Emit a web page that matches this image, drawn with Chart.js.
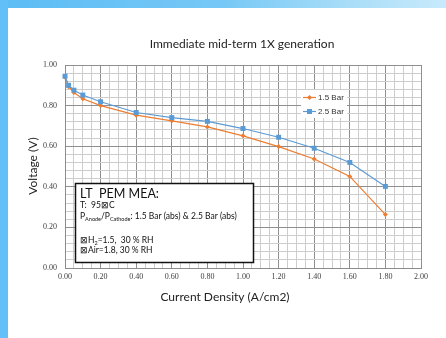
<!DOCTYPE html>
<html>
<head>
<meta charset="utf-8">
<script src="https://cdn.jsdelivr.net/npm/chart.js@4.4.1/dist/chart.umd.min.js"></script>
<style>
  html, body { margin: 0; padding: 0; background: #fff; }
  #wrap { position: relative; width: 446px; height: 338px; overflow: hidden; }
  canvas { position: absolute; left: 0; top: 0; }
</style>
</head>
<body>
<div id="wrap"><canvas id="c" width="446" height="338"></canvas></div>
<script>
// ---- data ----
const currentDensity = [0, 0.02, 0.05, 0.1, 0.2, 0.4, 0.6, 0.8, 1.0, 1.2, 1.4, 1.6, 1.8];
const voltage15Bar   = [0.940, 0.893, 0.864, 0.834, 0.800, 0.753, 0.725, 0.695, 0.651, 0.598, 0.537, 0.451, 0.263];
const voltage25Bar   = [0.945, 0.900, 0.876, 0.852, 0.819, 0.766, 0.741, 0.722, 0.687, 0.644, 0.590, 0.520, 0.402];
const seriesNames    = ['1.5 Bar', '2.5 Bar'];
const chartTitle     = 'Immediate mid-term 1X generation';
const xTitle         = 'Current Density (A/cm2)';
const yTitle         = 'Voltage (V)';

const ORANGE = '#ed7d31', BLUE = '#5b9bd5';

function pts(xs, ys) { return xs.map((x, i) => ({ x: x, y: ys[i] })); }
function isMajor(v) { const r = v / 0.2; return Math.abs(r - Math.round(r)) < 1e-6; }

const decorPlugin = {
  id: 'decor',
  beforeDraw(chart) {
    const ctx = chart.ctx;
    ctx.save();
    ctx.fillStyle = '#ffffff';
    ctx.fillRect(0, 0, chart.width, chart.height);
    const g = ctx.createLinearGradient(0, 0, chart.width, 0);
    g.addColorStop(0, '#5cbcf5');
    g.addColorStop(0.5, '#76c8f6');
    g.addColorStop(0.78, '#a9ddf8');
    g.addColorStop(1, '#c8eafc');
    ctx.fillStyle = g;
    ctx.fillRect(0, 0, chart.width, 8);
    ctx.fillStyle = '#62bff7';
    ctx.fillRect(0, 0, 8, chart.height);
    ctx.restore();
  },
  afterDraw(chart) {
    const ctx = chart.ctx;
    ctx.save();
    // chart title
    ctx.fillStyle = '#222';
    ctx.font = '12px Lato';
    ctx.textAlign = 'center';
    ctx.textBaseline = 'middle';
    ctx.fillText(chartTitle, 242, 44);
    // axis titles
    ctx.font = '12px Lato';
    ctx.fillText(xTitle, 225, 297);
    ctx.save();
    ctx.translate(33, 166);
    ctx.rotate(-Math.PI / 2);
    ctx.fillText(yTitle, 0, 0);
    ctx.restore();

    // legend
    ctx.fillStyle = '#fff';
    ctx.fillRect(301, 90, 46, 28);
    const legendItems = [
      { name: seriesNames[0], color: ORANGE, y: 97.5, style: 'diamond' },
      { name: seriesNames[1], color: BLUE, y: 111.5, style: 'square' }
    ];
    legendItems.forEach(it => {
      ctx.strokeStyle = it.color;
      ctx.lineWidth = 1.2;
      ctx.beginPath();
      ctx.moveTo(303, it.y);
      ctx.lineTo(316, it.y);
      ctx.stroke();
      ctx.fillStyle = it.color;
      if (it.style === 'square') {
        ctx.fillRect(307, it.y - 2.5, 5, 5);
      } else {
        ctx.beginPath();
        ctx.moveTo(309.5, it.y - 2.5); ctx.lineTo(312, it.y);
        ctx.lineTo(309.5, it.y + 2.5); ctx.lineTo(307, it.y);
        ctx.closePath(); ctx.fill();
      }
      ctx.fillStyle = '#333';
      ctx.font = '8px "Liberation Sans"';
      ctx.textAlign = 'left';
      ctx.textBaseline = 'middle';
      ctx.fillText(it.name, 318, it.y + 0.5);
    });

    // text box
    const bx = 75.5, by = 183.5, bw = 178, bh = 79;
    ctx.fillStyle = '#fff';
    ctx.fillRect(bx, by, bw, bh);
    ctx.strokeStyle = '#111';
    ctx.lineWidth = 1.5;
    ctx.strokeRect(bx, by, bw, bh);
    ctx.fillStyle = '#111';
    ctx.textAlign = 'left';
    ctx.textBaseline = 'alphabetic';
    ctx.font = '12.5px Lato';
    ctx.fillText('LT  PEM MEA:', 80, 198);
    ctx.font = '8.5px Lato';
    ctx.fillText('T:  95\u22A0C', 80, 208);
    // P_Anode / P_Cathode line with subscripts
    let x = 80; const yb = 219;
    const seg = (t, f, dy) => { ctx.font = f; ctx.fillText(t, x, yb + dy); x += ctx.measureText(t).width; };
    seg('P', '8.5px Lato', 0);
    seg('Anode', '5.5px Lato', 2);
    seg('/P', '8.5px Lato', 0);
    seg('Cathode', '5.5px Lato', 2);
    seg(': 1.5 Bar (abs) & 2.5 Bar (abs)', '8.5px Lato', 0);
    x = 80;
    const yb2 = 243;
    ctx.font = '8.5px Lato';
    ctx.fillText('\u22A0H', x, yb2); x += ctx.measureText('\u22A0H').width;
    ctx.font = '5.5px Lato'; ctx.fillText('2', x, yb2 + 2); x += ctx.measureText('2').width;
    ctx.font = '8.5px Lato'; ctx.fillText('=1.5,  30 % RH', x, yb2);
    ctx.fillText('\u22A0Air=1.8, 30 % RH', 80, 253);
    ctx.restore();
  }
};

const chart = new Chart(document.getElementById('c'), {
  type: 'scatter',
  data: {
    datasets: [
      {
        label: seriesNames[1],
        data: pts(currentDensity, voltage25Bar),
        showLine: true,
        clip: false,
        borderColor: BLUE,
        backgroundColor: BLUE,
        borderWidth: 1.2,
        pointStyle: 'rect',
        pointRadius: 3.5,
        pointBorderWidth: 0,
        order: 1
      },
      {
        label: seriesNames[0],
        data: pts(currentDensity, voltage15Bar),
        showLine: true,
        clip: false,
        borderColor: ORANGE,
        backgroundColor: ORANGE,
        borderWidth: 1.2,
        pointStyle: 'rectRot',
        pointRadius: 2.5,
        pointBorderWidth: 0,
        order: 2
      }
    ]
  },
  options: {
    responsive: false,
    animation: false,
    layout: { padding: { left: 8, top: 65, right: 25, bottom: 0 } },
    plugins: {
      legend: { display: false },
      title: { display: false },
      tooltip: { enabled: false }
    },
    scales: {
      x: {
        type: 'linear',
        min: 0, max: 2,
        ticks: {
          stepSize: 0.05,
          autoSkip: false,
          maxRotation: 0,
          padding: 4,
          color: '#404040',
          font: { family: '"Liberation Serif"', size: 8 },
          callback: v => isMajor(v) ? v.toFixed(2) : ''
        },
        grid: {
          drawTicks: false,
          color: c => isMajor(c.tick.value) ? '#8f8f8f' : '#cdcdcd',
          lineWidth: 1
        },
        border: { color: '#8c8c8c' },
        afterFit: s => { s.height = 70; }
      },
      y: {
        type: 'linear',
        min: 0, max: 1,
        ticks: {
          stepSize: 0.04,
          autoSkip: false,
          padding: 8,
          color: '#404040',
          font: { family: '"Liberation Serif"', size: 8 },
          callback: v => isMajor(v) ? v.toFixed(2) : ''
        },
        grid: {
          drawTicks: false,
          color: c => isMajor(c.tick.value) ? '#8f8f8f' : '#cdcdcd',
          lineWidth: 1
        },
        border: { color: '#8c8c8c' },
        afterFit: s => { s.width = 57; }
      }
    }
  },
  plugins: [decorPlugin]
});
</script>
</body>
</html>
